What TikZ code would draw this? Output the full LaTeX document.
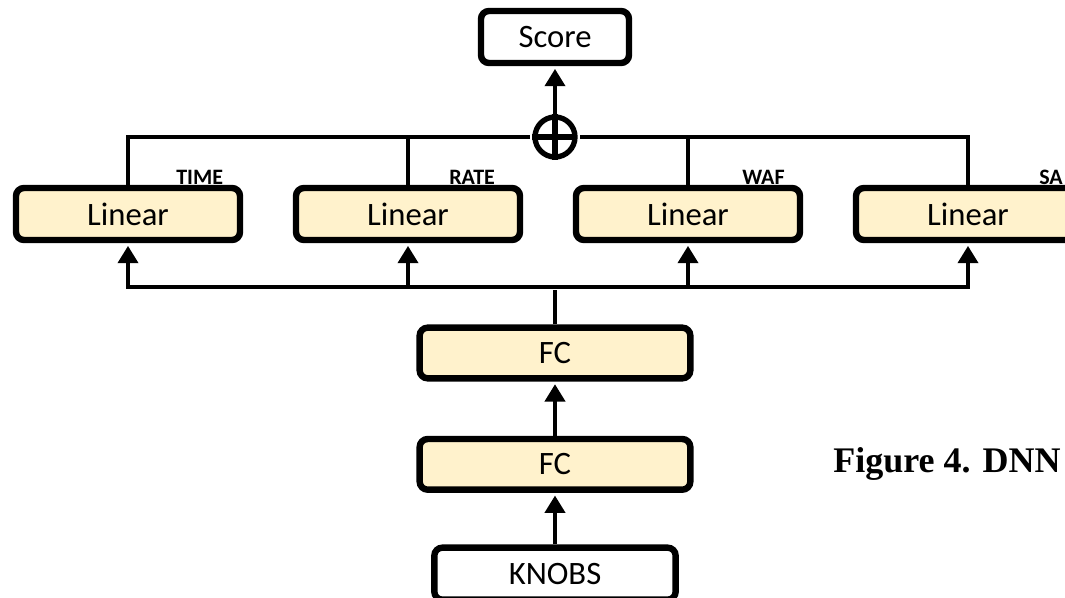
\documentclass[tikz,border=0pt]{standalone}
\usepackage{fontspec}
\newfontfamily\boxfont{Carlito}
\newfontfamily\capfont{Liberation Serif}
\usetikzlibrary{positioning,arrows.meta}

\definecolor{layerfill}{HTML}{FFF2CC}
\tikzset{
  block/.style={draw, fill=white, line width=4.8pt, rounded corners=6pt,
    minimum width=168pt, minimum height=39pt, inner sep=0pt,
    font=\boxfont\fontsize{24.5}{28}\selectfont},
  layer/.style={block, fill=layerfill},
  tag/.style={anchor=base west, inner sep=0pt,
    font=\boxfont\bfseries\fontsize{16.5}{18}\selectfont},
  wire/.style={line width=3pt},
}

\begin{document}
\begin{tikzpicture}[x=0.75pt, y=-0.75pt, node distance=75pt, on grid,
      >={Triangle[width=15pt,length=13pt]}, shorten >=2pt
  ]
    \useasboundingbox (0,0) rectangle (1065,597);
    \node[block, minimum width=111pt] (score) at (555,37) {Score};
    \node[circle, draw, line width=4pt, minimum size=30pt, inner sep=0pt]
      (plus) [below=of score] {};
    \draw[line width=4pt] (plus.north) -- (plus.south) (plus.west) -- (plus.east);
    \node[layer] (time) at (128,214) {Linear};
    \node[layer] (rate) [right=210pt of time] {Linear};
    \node[layer] (waf) [right=210pt of rate] {Linear};
    \node[layer] (sa) [right=210pt of waf] {Linear};
    \node[layer, minimum width=203pt, minimum height=38pt] (fc1) at (555,353) {FC};
    \node[layer, minimum width=203pt, minimum height=38pt] (fc2) [below=83.5pt of fc1] {FC};
    \node[block, minimum width=181pt] (knobs) [below=82pt of fc2] {KNOBS};
    % output names
    \node[tag] (ttime) at (176,184) {TIME};
    \node[tag] (trate) at (449,184) {RATE};
    \node[tag] (twaf) at (742,184) {WAF};
    \node[tag] (tsa) at (1039,184) {SA};
    \node[anchor=base west, inner sep=0pt,
      font=\capfont\bfseries\fontsize{27}{30}\selectfont] (caption) at (833,472) {Figure 4. DNN};
    \coordinate (bus) at (fc1 |- 0,287);
    \draw[wire] (fc1) -- (bus);
    \foreach \n in {time,rate,waf,sa} {
      \draw[wire,->] (bus) -| (\n);
      \draw[wire] (\n) |- (plus);
    }
    \draw[wire,->] (plus) -- (score);
    \draw[wire,->] (fc2) -- (fc1);
    \draw[wire,->] (knobs) -- (fc2);
  \end{tikzpicture}
\end{document}
